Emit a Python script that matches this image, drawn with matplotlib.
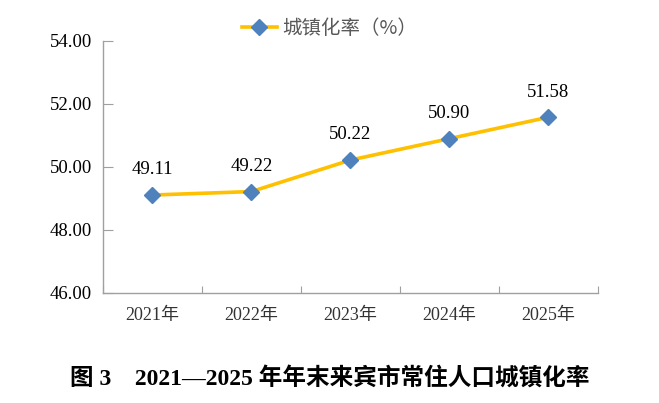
import matplotlib.pyplot as plt

years = ['2021年', '2022年', '2023年', '2024年', '2025年']
rates = [49.11, 49.22, 50.22, 50.90, 51.58]
yticks = [46, 48, 50, 52, 54]

serif_cjk = ['Liberation Serif', 'Noto Sans CJK SC']
plt.rcParams['font.family'] = serif_cjk

fig = plt.figure(figsize=(6.59, 4.03), dpi=100)
ax = fig.add_axes([0.1563, 0.273, 0.7511, 0.6253])

x = list(range(len(years)))
ax.plot(x, rates, color='#FFC000', linewidth=2.6, marker='D', markersize=8,
        markerfacecolor='#4F81BD', markeredgecolor='#4F81BD', label='城镇化率（%）')

for xi, v in zip(x, rates):
    ax.annotate(f'{v:.2f}', (xi, v), xytext=(0, 12), textcoords='offset points',
                ha='center', va='bottom', fontsize=13.5, color='#000000')

ax.set_xlim(-0.5, len(years) - 0.5)
ax.set_ylim(46, 54)
ax.set_yticks(yticks)
ax.set_yticklabels([f'{t:.2f}' for t in yticks], fontsize=13.5)

# category ticks on the boundaries, labels in the middle
ax.set_xticks([i - 0.5 for i in range(len(years) + 1)])
ax.set_xticklabels([])
ax.set_xticks(x, minor=True)
ax.set_xticklabels(years, minor=True, fontsize=13, color='#333333')
ax.tick_params(axis='x', which='minor', length=0, pad=10)
ax.tick_params(axis='x', which='major', direction='in', length=5, color='#A0A0A0')
ax.tick_params(axis='y', direction='in', length=7, color='#A0A0A0', pad=8)

for side in ['top', 'right']:
    ax.spines[side].set_visible(False)
for side in ['left', 'bottom']:
    ax.spines[side].set_color('#A0A0A0')
    ax.spines[side].set_linewidth(1.0)

leg = fig.legend(loc='center', bbox_to_anchor=(0.5, 0.93), frameon=False,
                 prop={'family': ['Noto Sans CJK SC'], 'size': 14}, handlelength=1.8,
                 handletextpad=0.3)
for t in leg.get_texts():
    t.set_color('#595959')

fig.text(0.5, 0.062, '图 3　2021—2025 年年末来宾市常住人口城镇化率', ha='center', va='center',
         fontsize=17, fontweight='bold', family=serif_cjk)

fig.savefig('out.png', dpi=100)
